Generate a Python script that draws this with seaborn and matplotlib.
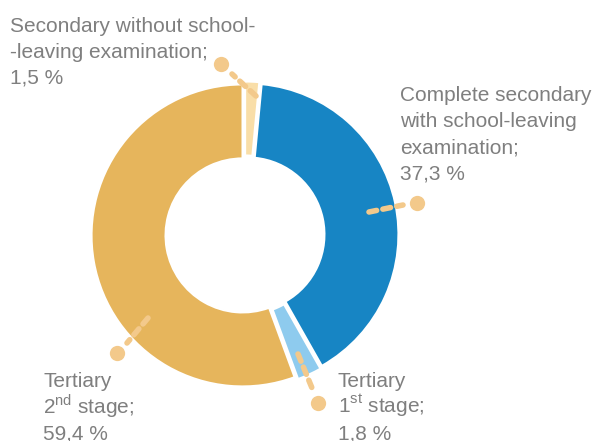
import numpy as np
import seaborn as sns
import matplotlib.pyplot as plt

# category names and the shares (%) printed in the labels
categories = ['Secondary without school-leaving examination',
              'Complete secondary with school-leaving examination',
              'Tertiary 1st stage',
              'Tertiary 2nd stage']
label_pct = ['1,5 %', '37,3 %', '1,8 %', '59,4 %']
# wedge sizes as drawn in the picture (clockwise from 12 o'clock)
wedge_share = [1.5, 40.3, 2.6, 55.6]
label_lines = [['Secondary without school-', '-leaving examination;'],
               ['Complete secondary', 'with school-leaving', 'examination;'],
               ['Tertiary', '1$^{\\mathrm{st}}$ stage;'],
               ['Tertiary', '2$^{\\mathrm{nd}}$ stage;']]

colors = ['#F9DEA8', '#1785C4', '#8ECBEE', '#E6B55C']
leader_color = '#F3C98B'
text_color = '#7F7F7F'

sns.set_theme(style='white')
plt.rcParams['font.family'] = ['Liberation Sans', 'DejaVu Sans']
plt.rcParams['mathtext.fontset'] = 'custom'
plt.rcParams['mathtext.rm'] = 'Liberation Sans'

W, H = 596, 441
fig = plt.figure(figsize=(W / 100, H / 100), dpi=100)
ax = fig.add_axes([0, 0, 1, 1])

# donut, centre given in pixel layout (y measured from the top)
cx, cy, R = 245, H - 235, 151
ax.pie(wedge_share, colors=colors, startangle=90, counterclock=False,
       center=(cx, cy), radius=R, explode=[2.5] * 4, frame=True,
       wedgeprops=dict(width=74, edgecolor='white', linewidth=1.5))
ax.set_xlim(0, W)
ax.set_ylim(0, H)
ax.set_aspect('equal')
ax.axis('off')

# leader lines: (start, end, dot) in pixel layout, y from top
leaders = [((256, 96), (232, 74), (221, 64)),
           ((369, 212), (403, 205), (417, 203)),
           ((298, 354), (312, 388), (318, 403)),
           ((148, 318), (127, 343), (117, 353))]
for (x0, y0), (x1, y1), (xd, yd) in leaders:
    ax.plot([x0, x1], [H - y0, H - y1], color=leader_color, lw=4,
            linestyle=(0, (1.4, 1.15)), dash_capstyle='round', zorder=3)
    ax.plot(xd, H - yd, 'o', ms=11, color=leader_color, mec='none', zorder=3)

# label anchors (left, baseline of first line) in pixel layout
label_pos = [(10, 32), (400, 101), (338, 387), (43, 387)]
line_step = 26
for lines, pct, (lx, ly) in zip(label_lines, label_pct, label_pos):
    for i, line in enumerate(lines + [pct]):
        ax.text(lx, H - (ly + i * line_step), line, ha='left', va='baseline',
                fontsize=15, color=text_color)

fig.savefig('out.png', dpi=100)
